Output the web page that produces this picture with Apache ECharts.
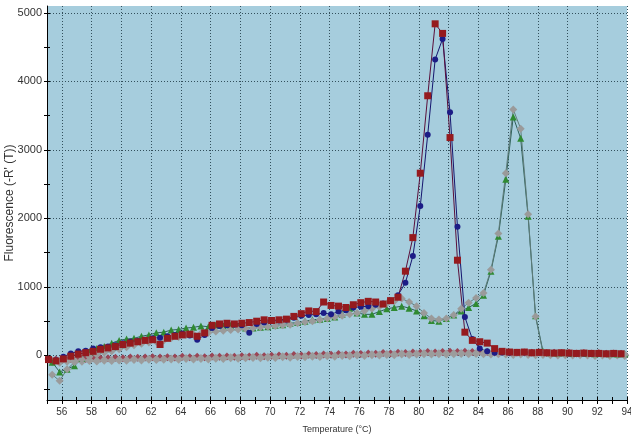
<!DOCTYPE html>
<html>
<head>
<meta charset="UTF-8">
<title>Melt curve</title>
<script src="https://cdn.jsdelivr.net/npm/echarts@6/dist/echarts.min.js"></script>
<style>
  html, body { margin: 0; padding: 0; background: #fff; }
  #main { width: 631px; height: 439px; }
</style>
</head>
<body>
<div id="main"></div>
<script type="text/javascript">
// temperature readings (deg C)
var tempsA = [55.1,55.6,56.1,56.6,57.1,57.6,58.1,58.6,59.1,59.6,
              60.1,60.6,61.1,61.6,62.1,62.6,63.1,63.6,64.1,64.6,
              65.1,65.6,66.1,66.6,67.1,67.6,68.1,68.6,69.1,69.6,
              70.1,70.6,71.1,71.6,72.1,72.6,73.1,73.6,74.1,74.6,
              75.1,75.6,76.1,76.6,77.1,77.6,78.1,78.6,79.1,79.6,
              80.1,80.6,81.1,81.6,82.1,82.6,83.1,83.6,84.1,84.6,
              85.1,85.6,86.1,86.6,87.1,87.6,88.1,88.6,89.1,89.6,
              90.1,90.6,91.1,91.6,92.1,92.6,93.1,93.6,94.1];
var tempsB = [55.35,55.85,56.35,56.85,57.35,57.85,58.35,58.85,59.35,59.85,
              60.35,60.85,61.35,61.85,62.35,62.85,63.35,63.85,64.35,64.85,
              65.35,65.85,66.35,66.85,67.35,67.85,68.35,68.85,69.35,69.85,
              70.35,70.85,71.35,71.85,72.35,72.85,73.35,73.85,74.35,74.85,
              75.35,75.85,76.35,76.85,77.35,77.85,78.35,78.85,79.35,79.85,
              80.35,80.85,81.35,81.85,82.35,82.85,83.35,83.85,84.35,84.85,
              85.35,85.85,86.35,86.85,87.35,87.85,88.35,88.85,89.35,89.85,
              90.35,90.85,91.35,91.85,92.35,92.85,93.35,93.85,94.35];

// -R'(T) values
var redVals = [-60,-80,-50,-10,20,40,60,90,110,130,
               160,180,200,220,230,160,250,280,300,310,
               280,330,440,460,470,460,470,480,500,520,
               510,520,530,570,610,650,640,780,730,720,
               700,740,770,790,780,750,800,850,1230,1720,
               2660,3790,4840,4700,3180,1390,340,220,200,180,
               100,60,50,45,50,40,45,40,35,40,
               35,30,35,30,30,25,30,25,20];
var blueVals = [-50,-70,-20,30,60,70,100,120,130,150,
                180,200,210,230,250,260,280,300,320,290,
                230,300,400,430,440,450,440,330,460,480,
                500,510,520,550,580,590,600,620,600,640,
                660,700,710,720,740,760,800,880,1060,1450,
                2180,3220,4320,4620,3550,1880,560,240,100,60,
                40,45,40,50,45,40,45,35,40,35,
                30,35,30,25,30,25,30,25,20];
var greenVals = [-100,-240,-200,-150,-40,50,100,130,180,220,
                 240,250,280,300,330,340,370,380,400,410,
                 430,420,440,430,440,420,400,400,410,420,
                 440,450,470,480,500,520,530,540,560,600,
                 690,620,600,600,640,680,700,720,690,650,
                 580,510,500,540,590,650,700,760,880,1230,
                 1740,2570,3480,3170,2030,580,60,40,35,40,
                 30,35,30,25,30,25,20,25,20];
var grayVals = [-280,-370,-200,-100,-60,-20,10,40,60,90,
                120,150,170,190,200,220,250,270,300,310,
                320,330,350,360,370,380,390,400,410,420,
                430,440,450,470,490,500,520,540,560,580,
                600,620,650,680,710,760,790,830,780,720,
                620,540,525,540,590,680,770,840,910,1250,
                1780,2660,3590,3310,2060,570,40,30,35,25,
                30,25,30,20,25,20,25,15,20];
var ntcAVals = [-50,-60,-55,-50,-45,-50,-40,-45,-40,-35,
                -40,-30,-35,-30,-25,-30,-25,-30,-20,-25,
                -20,-25,-15,-20,-15,-20,-10,-15,-5,-10,
                -5,0,-5,5,0,10,5,15,10,20,
                15,25,20,30,25,35,30,40,35,45,
                40,50,45,50,55,50,55,50,55,50,
                45,50,45,40,45,40,45,35,40,35,
                40,30,35,30,35,25,30,25,30];
var ntcBVals = [-90,-100,-85,-80,-85,-75,-80,-70,-75,-65,
                -70,-60,-65,-55,-60,-55,-50,-55,-45,-50,
                -45,-50,-40,-45,-35,-40,-35,-30,-35,-25,
                -30,-20,-25,-15,-20,-10,-15,-5,-10,0,
                -5,5,0,10,5,15,10,20,15,20,
                25,20,25,20,25,30,25,30,25,20,
                25,20,15,20,15,10,15,10,5,10,
                5,10,5,0,5,0,5,0,-5];

// axis ticks
var xLabelVals = [56,58,60,62,64,66,68,70,72,74,76,78,80,82,84,86,88,90,92,94];
var xTickVals = [55,56,57,58,59,60,61,62,63,64,65,66,67,68,69,70,71,72,73,74,
                 75,76,77,78,79,80,81,82,83,84,85,86,87,88,89,90,91,92,93,94];
var yLabelVals = [0,1000,2000,3000,4000,5000];
var yTickVals = [-500,0,500,1000,1500,2000,2500,3000,3500,4000,4500,5000];

function pairs(t, v) {
    return v.map(function (y, i) { return [t[i], y]; });
}

var font = 'Liberation Sans, Arial, sans-serif';
var gridDot = {type: [1, 2], color: '#33505c', width: 1};

function xAx(extra) {
    var a = {type: 'value', min: 55, max: 94, position: 'bottom',
             axisLine: {show: false, onZero: false}, axisLabel: {show: false},
             axisTick: {show: false}, splitLine: {show: false}};
    for (var k in extra) a[k] = extra[k];
    return a;
}
function yAx(extra) {
    var a = {type: 'value', min: -650, max: 5100, position: 'left',
             axisLine: {show: false, onZero: false}, axisLabel: {show: false},
             axisTick: {show: false}, splitLine: {show: false}};
    for (var k in extra) a[k] = extra[k];
    return a;
}

function line(name, t, v, color, lineColor, symbol, size) {
    return {
        name: name, type: 'line', data: pairs(t, v),
        symbol: symbol, symbolSize: size, showAllSymbol: true,
        itemStyle: {color: color},
        lineStyle: {color: lineColor, width: 1},
        xAxisIndex: 0, yAxisIndex: 0
    };
}

var chart = echarts.init(document.getElementById('main'));
var option = {
    animation: false,
    backgroundColor: '#fff',
    textStyle: {fontFamily: font},
    grid: {left: 47, right: 4, top: 6, bottom: 39, show: true,
           containLabel: false, outerBoundsMode: 'none',
           backgroundColor: '#a6cddd', borderWidth: 0},
    xAxis: [
        xAx({
            axisLine: {show: true, onZero: false, lineStyle: {color: '#000', width: 1}},
            axisTick: {show: false, customValues: xLabelVals},
            axisLabel: {show: true, customValues: xLabelVals, fontSize: 10, color: '#333', margin: 7,
                        fontFamily: font, formatter: function (v) { return String(v); }},
            splitLine: {show: true, lineStyle: gridDot},
            name: 'Temperature (°C)', nameLocation: 'middle', nameGap: 25,
            nameTextStyle: {fontSize: 9, color: '#333', fontFamily: font}
        }),
        xAx({axisTick: {show: true, customValues: xTickVals, length: 4, lineStyle: {color: '#000'}}}),
        xAx({axisTick: {show: true, inside: true, customValues: xTickVals, length: 3, lineStyle: {color: '#000'}}})
    ],
    yAxis: [
        yAx({
            axisLine: {show: true, onZero: false, lineStyle: {color: '#000', width: 1}},
            axisTick: {show: false, customValues: yLabelVals},
            axisLabel: {show: true, customValues: yLabelVals, fontSize: 11, color: '#333', margin: 5,
                        fontFamily: font, formatter: function (v) { return String(v); }},
            splitLine: {show: true, lineStyle: gridDot},
            name: "Fluorescence (-R' (T))", nameLocation: 'middle', nameGap: 31,
            nameMoveOverlap: false,
            nameTextStyle: {fontSize: 12, color: '#333', fontFamily: font}
        }),
        yAx({axisTick: {show: true, customValues: yTickVals, length: 3, lineStyle: {color: '#000'}}}),
        yAx({axisTick: {show: true, inside: true, customValues: yTickVals, length: 3, lineStyle: {color: '#000'}}})
    ],
    series: [
        line('NTC 1', tempsA, ntcAVals, '#9a4656', '#7a4a5a', 'diamond', 8),
        line('NTC 2', tempsB, ntcBVals, '#9c9c9c', '#8a8f95', 'diamond', 9),
        line('Sample 3', tempsB, greenVals, '#2f8a32', '#2e5f56', 'triangle', 7),
        line('Sample 4', tempsB, grayVals, '#9a9a9a', '#5f7c7a', 'diamond', 8),
        line('Sample 1', tempsA, blueVals, '#1c1c86', '#15156e', 'circle', 6),
        line('Sample 2', tempsA, redVals, '#951a1e', '#5a0f3a', 'rect', 7)
    ]
};
chart.setOption(option);
</script>
</body>
</html>
